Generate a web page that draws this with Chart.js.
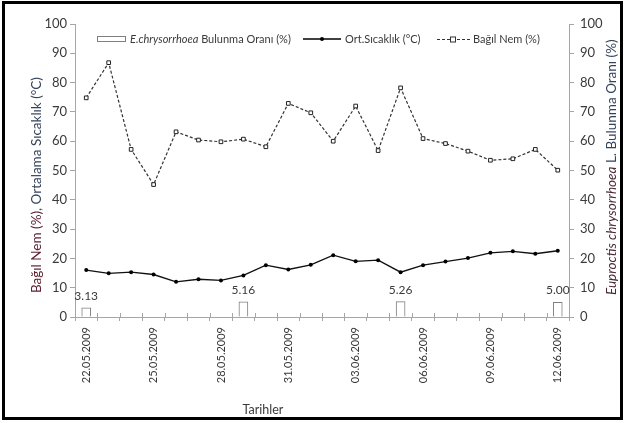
<!DOCTYPE html>
<html>
<head>
<meta charset="utf-8">
<script src="https://cdn.jsdelivr.net/npm/chart.js@4.4.1/dist/chart.umd.min.js"></script>
<style>
  body { margin: 0; background: #fff; }
  #wrap { position: relative; width: 625px; height: 423px; }
</style>
</head>
<body>
<div id="wrap"><canvas id="chart" width="625" height="423"></canvas></div>
<script>
// dates on the x axis (one per day)
const dates = ['22.05.2009','23.05.2009','24.05.2009','25.05.2009','26.05.2009','27.05.2009','28.05.2009',
    '29.05.2009','30.05.2009','31.05.2009','01.06.2009','02.06.2009','03.06.2009','04.06.2009',
    '05.06.2009','06.06.2009','07.06.2009','08.06.2009','09.06.2009','10.06.2009','11.06.2009','12.06.2009'];

// Ort. Sıcaklık (°C)
const temperature = [16.0, 14.9, 15.3, 14.5, 12.0, 12.9, 12.5, 14.2, 17.7, 16.2, 17.8,
    21.1, 19.0, 19.4, 15.3, 17.7, 18.9, 20.1, 21.9, 22.4, 21.6, 22.6];

// Bağıl Nem (%)
const humidity = [74.8, 86.8, 57.2, 45.2, 63.2, 60.4, 59.8, 60.7, 58.1, 72.9, 69.7,
    60.0, 72.0, 56.8, 78.2, 60.9, 59.2, 56.6, 53.5, 54.0, 57.2, 50.1];

// E.chrysorrhoea bulunma oranı (%) - only sampled weekly
const occurrence = [3.13, null, null, null, null, null, null, 5.16, null, null, null,
    null, null, null, 5.26, null, null, null, null, null, null, 5.00];

const yTicks = { min: 0, max: 100, step: 10 };

const FONT = 'Lato, "Open Sans", sans-serif';
const TXT = '#3a3a3a';
const AXIS = '#a6a6a6';

// frame, titles, legend, bar labels
const decorPlugin = {
    id: 'decor',
    afterDraw(chart) {
        const ctx = chart.ctx;
        const x = chart.scales.x;
        ctx.save();

        // x tick marks poke up into the plot a little
        ctx.strokeStyle = AXIS;
        ctx.lineWidth = 1;
        const n = dates.length;
        for (let i = 0; i <= n; i++) {
            const px = Math.round(x.left + i * (x.width / n)) + 0.5;
            ctx.beginPath();
            ctx.moveTo(px, x.top - 4);
            ctx.lineTo(px, x.top);
            ctx.stroke();
        }

        // bar value labels
        const meta = chart.getDatasetMeta(0);
        ctx.fillStyle = TXT;
        ctx.font = '12px ' + FONT;
        ctx.textAlign = 'center';
        ctx.textBaseline = 'alphabetic';
        meta.data.forEach((bar, i) => {
            if (occurrence[i] == null) return;
            ctx.fillText(occurrence[i].toFixed(2), bar.x, bar.y - 8);
        });

        // left axis title
        ctx.save();
        ctx.translate(37, 293);
        ctx.rotate(-Math.PI / 2);
        ctx.textAlign = 'left';
        ctx.textBaseline = 'middle';
        ctx.font = '13.5px ' + FONT;
        let p1 = 'Bağıl Nem (%)';
        ctx.fillStyle = '#5a2232';
        ctx.fillText(p1, 0, 0);
        let w = ctx.measureText(p1).width;
        ctx.fillStyle = '#34435a';
        ctx.fillText(', Ortalama Sıcaklık (°C)', w, 0);
        ctx.restore();

        // right axis title
        ctx.save();
        ctx.translate(612, 295);
        ctx.rotate(-Math.PI / 2);
        ctx.textAlign = 'left';
        ctx.textBaseline = 'middle';
        ctx.font = 'italic 13.5px ' + FONT;
        p1 = 'Euproctis chrysorrhoea';
        ctx.fillStyle = '#4a2a35';
        ctx.fillText(p1, 0, 0);
        w = ctx.measureText(p1).width;
        ctx.font = '13.5px ' + FONT;
        ctx.fillStyle = '#34435a';
        ctx.fillText(' L. Bulunma Oranı (%)', w, 0);
        ctx.restore();

        // x axis title
        ctx.fillStyle = TXT;
        ctx.font = '12.5px ' + FONT;
        ctx.textAlign = 'center';
        ctx.textBaseline = 'middle';
        ctx.fillText('Tarihler', 263, 410);

        // legend
        const ly = 39;
        ctx.textAlign = 'left';
        ctx.textBaseline = 'middle';
        ctx.fillStyle = '#fff';
        ctx.strokeStyle = '#7f7f7f';
        ctx.lineWidth = 1;
        ctx.fillRect(97, ly - 3, 28, 6);
        ctx.strokeRect(97.5, ly - 2.5, 28, 5);
        ctx.fillStyle = TXT;
        ctx.font = 'italic 11px ' + FONT;
        ctx.fillText('E.chrysorrhoea', 130, ly);
        w = ctx.measureText('E.chrysorrhoea').width;
        ctx.font = '11px ' + FONT;
        ctx.fillText(' Bulunma Oranı (%)', 130 + w, ly);

        ctx.strokeStyle = '#000';
        ctx.lineWidth = 1.3;
        ctx.beginPath(); ctx.moveTo(303, ly); ctx.lineTo(341, ly); ctx.stroke();
        ctx.fillStyle = '#000';
        ctx.beginPath(); ctx.arc(322, ly, 2, 0, Math.PI * 2); ctx.fill();
        ctx.fillStyle = TXT;
        ctx.fillText('Ort.Sıcaklık (°C)', 345, ly);

        ctx.strokeStyle = '#333';
        ctx.lineWidth = 1.2;
        ctx.setLineDash([3, 2]);
        ctx.beginPath(); ctx.moveTo(437, ly + 0.5); ctx.lineTo(470, ly + 0.5); ctx.stroke();
        ctx.setLineDash([]);
        ctx.lineWidth = 1;
        ctx.fillStyle = '#fff';
        ctx.fillRect(450.5, ly - 2, 5, 5);
        ctx.strokeRect(450.5, ly - 2, 5, 5);
        ctx.fillStyle = TXT;
        ctx.fillText('Bağıl Nem (%)', 473, ly);

        // outer frame
        ctx.strokeStyle = '#000';
        ctx.lineWidth = 3;
        ctx.strokeRect(3.5, 2.5, 618, 416);
        ctx.restore();
    }
};

new Chart(document.getElementById('chart').getContext('2d'), {
    type: 'bar',
    data: {
        labels: dates,
        datasets: [
            {
                type: 'bar', label: 'E.chrysorrhoea Bulunma Oranı (%)', data: occurrence,
                yAxisID: 'y1', backgroundColor: '#fff', borderColor: '#7f7f7f', borderWidth: 1,
                barThickness: 9, order: 3
            },
            {
                type: 'line', label: 'Ort.Sıcaklık (°C)', data: temperature, yAxisID: 'y',
                borderColor: '#111', borderWidth: 1.4, pointStyle: 'circle', pointRadius: 2,
                pointBackgroundColor: '#000', pointBorderWidth: 0, tension: 0, order: 1
            },
            {
                type: 'line', label: 'Bağıl Nem (%)', data: humidity, yAxisID: 'y',
                borderColor: '#333', borderWidth: 1.2, borderDash: [3, 2],
                pointStyle: 'rect', pointRadius: 2.6, pointBackgroundColor: '#fff',
                pointBorderColor: '#222', pointBorderWidth: 1, tension: 0, order: 2
            }
        ]
    },
    options: {
        responsive: false,
        animation: false,
        layout: { padding: { top: 24, left: 0, right: 0, bottom: 0 } },
        plugins: { legend: { display: false }, tooltip: { enabled: false } },
        scales: {
            x: {
                offset: true,
                grid: { offset: true, drawOnChartArea: false, color: AXIS, tickLength: 4 },
                border: { color: AXIS },
                ticks: {
                    autoSkip: false, minRotation: 90, maxRotation: 90, padding: 6,
                    color: TXT, font: { family: FONT, size: 11 },
                    callback: (v, i) => (i % 3 === 0 ? dates[i] : '')
                },
                afterFit: s => { s.height = 106; }
            },
            y: {
                position: 'left', min: yTicks.min, max: yTicks.max,
                grid: { drawOnChartArea: false, color: AXIS, tickLength: 5 },
                border: { color: AXIS },
                ticks: { stepSize: yTicks.step, padding: 3, color: TXT, font: { family: FONT, size: 13 } },
                afterFit: s => { s.width = 75; }
            },
            y1: {
                position: 'right', min: yTicks.min, max: yTicks.max,
                grid: { drawOnChartArea: false, color: AXIS, tickLength: 5 },
                border: { color: AXIS },
                ticks: { stepSize: yTicks.step, padding: 6, color: TXT, font: { family: FONT, size: 13 } },
                afterFit: s => { s.width = 56; }
            }
        }
    },
    plugins: [decorPlugin]
});
</script>
</body>
</html>
